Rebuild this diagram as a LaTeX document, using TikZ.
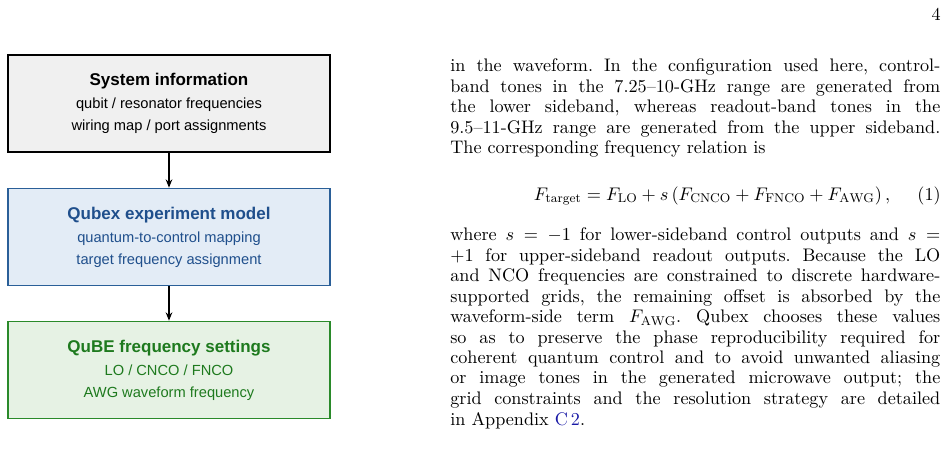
\documentclass[tikz,border=0pt]{standalone}
\usepackage{fontspec}
\usepackage{amsmath}
\usetikzlibrary{positioning,arrows.meta}
\newfontfamily\boxfont{Liberation Sans}
\definecolor{infofill}{HTML}{F0F0F0}
\definecolor{modelfill}{HTML}{E3ECF6}
\definecolor{modeldraw}{HTML}{2A5F98}
\definecolor{modeltext}{HTML}{1F4F8C}
\definecolor{qubefill}{HTML}{E6F2E4}
\definecolor{qubedraw}{HTML}{2A8A2A}
\definecolor{qubetext}{HTML}{1E7A1E}
\definecolor{linkblue}{HTML}{1A1AA6}
\newcommand*{\tline}[3]{\node[textline] (#1) at (450,#2) {\hbox to 294pt{#3}};}
\frenchspacing

\begin{document}
\begin{tikzpicture}[x=0.6pt,y=-0.6pt,
    stagebox/.style={draw,line width=1pt,minimum width=322*0.6pt,minimum height=97*0.6pt,
        align=center,font=\boxfont\fontsize{8.8}{13}\selectfont},
    textline/.style={anchor=west,inner sep=0pt,font=\fontsize{10.9}{12}\selectfont},
    flow/.style={-{Stealth[length=5pt,width=4pt]},line width=0.8pt}]
    \useasboundingbox (0,0) rectangle (949,449);

    % left column: the three stages
    \node[stagebox,fill=infofill] (sysinfo) at (169,103.5)
        {{\bfseries\fontsize{10.2}{14}\selectfont System information}\\[1pt]
         qubit / resonator frequencies\\ wiring map / port assignments};
    \node[stagebox,fill=modelfill,draw=modeldraw,text=modeltext] (model) at (169,237)
        {{\bfseries\fontsize{10.2}{14}\selectfont Qubex experiment model}\\[1pt]
         quantum-to-control mapping\\ target frequency assignment};
    \node[stagebox,fill=qubefill,draw=qubedraw,text=qubetext] (qube) at (169,370)
        {{\bfseries\fontsize{10.2}{14}\selectfont QuBE frequency settings}\\[1pt]
         LO / CNCO / FNCO\\ AWG waveform frequency};
    \draw[flow] (sysinfo) -- (model);
    \draw[flow] (model) -- (qube);

    % right column: page text
    \node[textline,anchor=east] (pagenum) at (941,14) {4};
    \tline{l1}{67}{in the waveform. In the configuration used here, control-}
    \tline{l2}{87.5}{band tones in the 7.25--10-GHz range are generated from}
    \tline{l3}{108}{the lower sideband, whereas readout-band tones in the}
    \tline{l4}{128.5}{9.5--11-GHz range are generated from the upper sideband.}
    \node[textline] (l5) at (450,149) {The corresponding frequency relation is};
    \node[textline,anchor=center] (eqn) at (712,196)
        {$F_{\mathrm{target}}=F_{\mathrm{LO}}+s\,(F_{\mathrm{CNCO}}+F_{\mathrm{FNCO}}+F_{\mathrm{AWG}})\,,$};
    \node[textline,anchor=east] (eqnum) at (941,196) {(1)};
    \tline{l6}{236}{where $s=-1$ for lower-sideband control outputs and $s=$}
    \tline{l7}{256.5}{$+1$ for upper-sideband readout outputs. Because the LO}
    \tline{l8}{277}{and NCO frequencies are constrained to discrete hardware-}
    \tline{l9}{297.5}{supported grids, the remaining offset is absorbed by the}
    \tline{l10}{318}{waveform-side term $F_{\mathrm{AWG}}$. Qubex chooses these values}
    \tline{l11}{338.5}{so as to preserve the phase reproducibility required for}
    \tline{l12}{359}{coherent quantum control and to avoid unwanted aliasing}
    \tline{l13}{379.5}{or image tones in the generated microwave output; the}
    \tline{l14}{400}{grid constraints and the resolution strategy are detailed}
    \node[textline] (l15) at (450,420.5) {in Appendix \textcolor{linkblue}{C\,2}.};
\end{tikzpicture}
\end{document}
